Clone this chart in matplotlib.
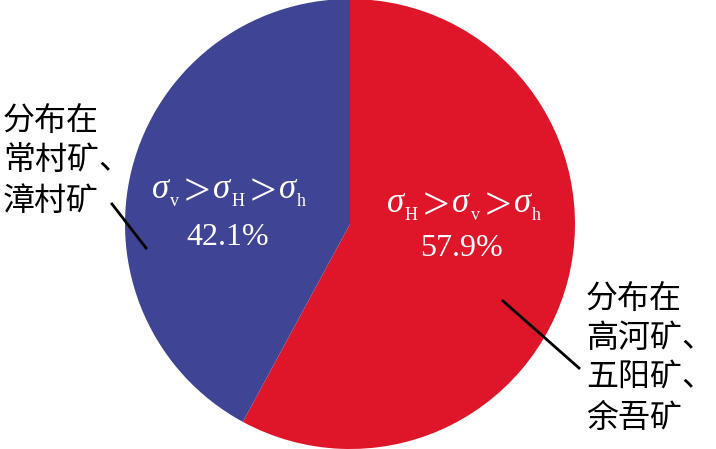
import matplotlib.pyplot as plt

# data
shares = [57.9, 42.1]
colors = ['#DF1529', '#404494']
# stress order in each wedge: (main symbol, subscript) pairs
order_red = [('σ', 'H'), ('σ', 'v'), ('σ', 'h')]
order_blue = [('σ', 'v'), ('σ', 'H'), ('σ', 'h')]
right_lines = ['分布在', '高河矿、', '五阳矿、', '余吾矿']
left_lines = ['分布在', '常村矿、', '漳村矿']

W, H = 716, 449
fig = plt.figure(figsize=(W / 100, H / 100), dpi=100)
ax = fig.add_axes([0, 0, 1, 1])

cx, cy, r = 350, H - 224, 225
ax.pie(shares, colors=colors, startangle=90, counterclock=False,
       center=(cx, cy), radius=r, wedgeprops=dict(linewidth=0))
ax.set_xlim(0, W)
ax.set_ylim(0, H)
ax.axis('off')

serif = 'Liberation Serif'
cjk = ['Noto Sans CJK SC', 'DejaVu Sans']
rend = fig.canvas.get_renderer()


def formula(xc, ybase, order):
    # pieces: (text, size, style, baseline shift down in px, gap before)
    parts = []
    for i, (sym, sub) in enumerate(order):
        if i > 0:
            parts.append(('>', 34, 'normal', 7, 5))
        parts.append((sym, 25, 'italic', 0, 3 if i > 0 else 0))
        parts.append((sub, 13, 'normal', 8, 1))
    texts = []
    x = 0
    for s, fs, st, dy, gap in parts:
        x += gap
        t = ax.text(0, ybase - dy, s, fontsize=fs, family=serif, style=st,
                    color='white', ha='left', va='baseline')
        w = t.get_window_extent(rend).width
        texts.append((t, x))
        x += w
    x0 = xc - x / 2
    for t, off in texts:
        t.set_x(x0 + off)


formula(464, H - 212, order_red)
formula(229, H - 198, order_blue)

ax.text(462, H - 256, '%.1f%%' % shares[0], color='white', fontsize=23,
        family=serif, ha='center', va='baseline')
ax.text(228, H - 245, '%.1f%%' % shares[1], color='white', fontsize=23,
        family=serif, ha='center', va='baseline')

# side notes
for i, s in enumerate(left_lines):
    ax.text(3, H - (121 + i * 40), s, fontsize=23, family=cjk,
            ha='left', va='center')
for i, s in enumerate(right_lines):
    ax.text(586, H - (299 + i * 39.5), s, fontsize=23, family=cjk,
            ha='left', va='center')

ax.plot([112, 146], [H - 204, H - 248], color='black', lw=2)
ax.plot([503, 579], [H - 301, H - 368], color='black', lw=2)

fig.savefig('out.png', dpi=100)
